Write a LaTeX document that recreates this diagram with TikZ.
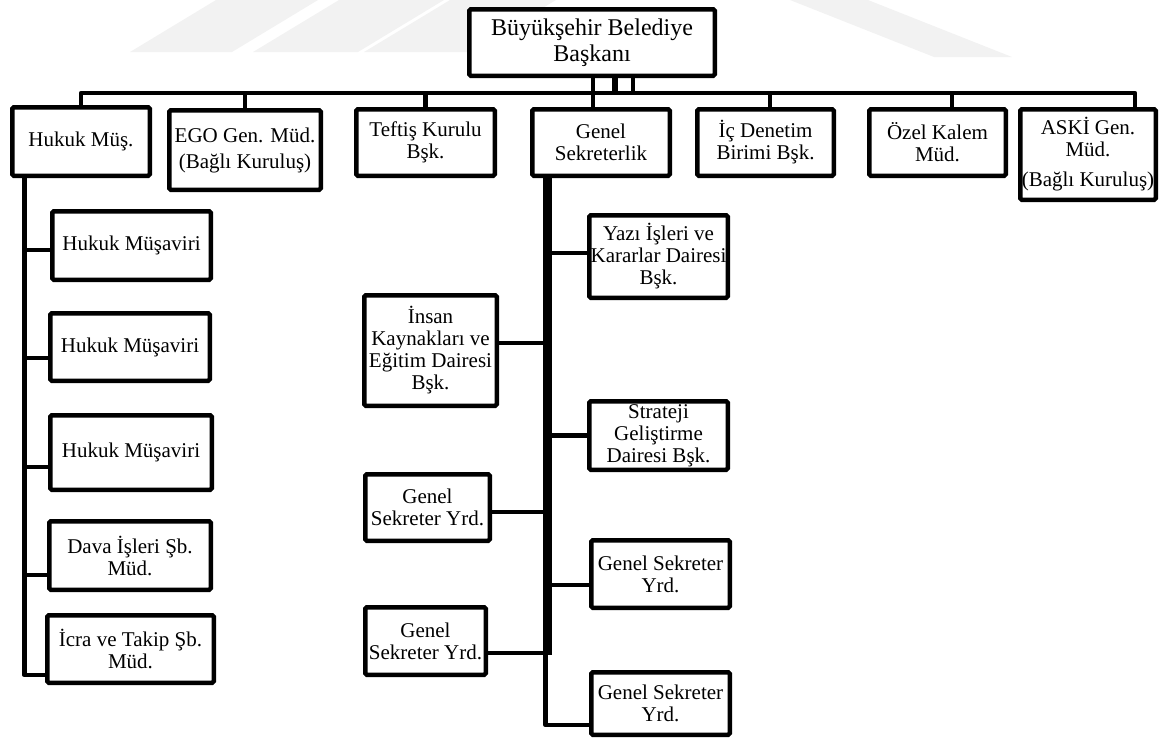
\documentclass[tikz,border=0pt]{standalone}
\usepackage{fontspec}
\setmainfont{Liberation Serif}
\begin{document}
\begin{tikzpicture}[x=1pt,y=-1pt,
  box/.style={draw, line width=4.5pt, rounded corners=1.5pt, inner sep=0pt, outer sep=0pt,
    align=center, fill=white, font=\fontsize{21}{22}\selectfont},
  conn/.style={line width=4.5pt, line join=round},
  thick trunk/.style={line width=9pt},
  wm/.style={fill=black!5, draw=none}
]
\useasboundingbox (0,0) rectangle (1164,740);

% faint watermark bands
\fill[wm] (130,52) -- (232,52) -- (318,0) -- (216,0) -- cycle;
\fill[wm] (253,52) -- (358,52) -- (444,0) -- (339,0) -- cycle;
\fill[wm] (364,52) -- (470,52) -- (556,0) -- (450,0) -- cycle;
\fill[wm] (790,0) -- (868,0) -- (1012,57) -- (934,57) -- cycle;

% top
\node[box, minimum width=245.5pt, minimum height=66.5pt, font=\fontsize{24}{26}\selectfont] (top) at (592,42.5) {Büyükşehir Belediye\\Başkanı};

% first row
\node[box, minimum width=137.5pt, minimum height=68.5pt] (hukuk) at (81,141.5) {Hukuk Müş.};
\node[box, minimum width=151.5pt, minimum height=79.5pt] (ego) at (245,150) {EGO Gen. Müd.\\[4pt](Bağlı Kuruluş)};
\node[box, minimum width=138.5pt, minimum height=66.5pt] (teftis) at (425.5,142.5) {Teftiş Kurulu\\Bşk.};
\node[box, minimum width=137.5pt, minimum height=66.5pt] (gensek) at (601,142.5) {Genel\\Sekreterlik};
\node[box, minimum width=136.5pt, minimum height=66.5pt] (icden) at (765.5,142.5) {İç Denetim\\Birimi Bşk.};
\node[box, minimum width=136.5pt, minimum height=66.5pt] (ozel) at (937.5,142.5) {Özel Kalem\\Müd.};
\node[box, minimum width=135.5pt, minimum height=90.5pt] (aski) at (1088,154.5) {ASKİ Gen.\\Müd.\\[8pt](Bağlı Kuruluş)};

% Hukuk branch
\node[box, minimum width=158.5pt, minimum height=68.5pt] (hm1) at (131.5,245.5) {Hukuk Müşaviri};
\node[box, minimum width=159.5pt, minimum height=67.5pt] (hm2) at (130,347) {Hukuk Müşaviri};
\node[box, minimum width=161.5pt, minimum height=74.5pt] (hm3) at (131,452.5) {Hukuk Müşaviri};
\node[box, minimum width=161.5pt, minimum height=68.5pt] (dava) at (130,555.5) {Dava İşleri Şb.\\Müd.};
\node[box, minimum width=166.5pt, minimum height=67.5pt] (icra) at (130.5,649) {İcra ve Takip Şb.\\Müd.};

% Genel Sekreterlik branch
\node[box, minimum width=138.5pt, minimum height=82.5pt] (yazi) at (658.5,256.5) {Yazı İşleri ve\\Kararlar Dairesi\\Bşk.};
\node[box, minimum width=132.5pt, minimum height=110.5pt] (insan) at (430.5,350.5) {İnsan\\Kaynakları ve\\Eğitim Dairesi\\Bşk.};
\node[box, minimum width=138.5pt, minimum height=68.5pt] (strat) at (658.5,435.5) {Strateji\\Geliştirme\\Dairesi Bşk.};
\node[box, minimum width=124.5pt, minimum height=66.5pt] (gsyl1) at (427.5,507.5) {Genel\\Sekreter Yrd.};
\node[box, minimum width=138.5pt, minimum height=67.5pt] (gsyr1) at (660.5,574) {Genel Sekreter\\Yrd.};
\node[box, minimum width=120.5pt, minimum height=67.5pt] (gsyl2) at (425.5,641) {Genel\\Sekreter Yrd.};
\node[box, minimum width=138.5pt, minimum height=62.5pt] (gsyr2) at (660.5,703.5) {Genel Sekreter\\Yrd.};

% bus and stubs
\coordinate (busL) at (82,93);
\coordinate (gs) at ([xshift=-8pt]gensek.north);
\coordinate (oz) at ([xshift=14.5pt]ozel.north);
\coordinate (ak) at ([xshift=47pt]aski.north);
\coordinate (ic) at ([xshift=4.5pt]icden.north);
\draw[conn] (hukuk.north) -- (hukuk.north |- busL) -- (ak |- busL) -- (ak);
\draw[conn] (ego.north) -- (ego.north |- busL);
\draw[conn] (teftis.north) -- (teftis.north |- busL);
\draw[conn] (ic) -- (ic |- busL);
\draw[conn] (oz) -- (oz |- busL);
\draw[conn] (gs |- top.south) -- (gs);
\coordinate (t2) at ([xshift=23pt]top.south);
\coordinate (t3) at ([xshift=41pt]top.south);
\draw[line width=6pt] (t2) -- (t2 |- busL);
\draw[conn] (t3) -- (t3 |- busL);

% Hukuk trunk
\coordinate (ht) at ([xshift=12pt]hukuk.south west);
\coordinate (h1) at ([yshift=-4.5pt]hm1.west);
\coordinate (h2) at ([yshift=-11pt]hm2.west);
\coordinate (h3) at ([yshift=-14.5pt]hm3.west);
\coordinate (h4) at ([yshift=-19.5pt]dava.west);
\coordinate (h5) at ([yshift=-26pt]icra.west);
\draw[conn] (ht) |- (h5);
\draw[conn] (ht |- h1) -- (h1);
\draw[conn] (ht |- h2) -- (h2);
\draw[conn] (ht |- h3) -- (h3);
\draw[conn] (ht |- h4) -- (h4);

% Genel Sekreterlik trunk
\coordinate (gt) at ([xshift=-53.5pt]gensek.south);
\coordinate (l1) at ([yshift=7.5pt]insan.east);
\coordinate (l2) at ([yshift=-4.5pt]gsyl1.east);
\coordinate (l3) at ([yshift=-12pt]gsyl2.east);
\coordinate (r1) at ([yshift=3.5pt]yazi.west);
\coordinate (r2) at (strat.west);
\coordinate (r3) at ([yshift=-11pt]gsyr1.west);
\coordinate (r4) at ([yshift=-21.5pt]gsyr2.west);
\draw[thick trunk] (gt) -- ([yshift=-2pt]gt |- l3);
\coordinate (gt2) at ([xshift=-2pt]gt);
\draw[conn] (gt2) |- (r4);
\draw[conn] (gt |- l1) -- (l1);
\draw[conn] (gt |- l2) -- (l2);
\draw[conn] (gt |- l3) -- (l3);
\draw[conn] (gt |- r1) -- (r1);
\draw[conn] (gt |- r2) -- (r2);
\draw[conn] (gt |- r3) -- (r3);
\end{tikzpicture}
\end{document}
